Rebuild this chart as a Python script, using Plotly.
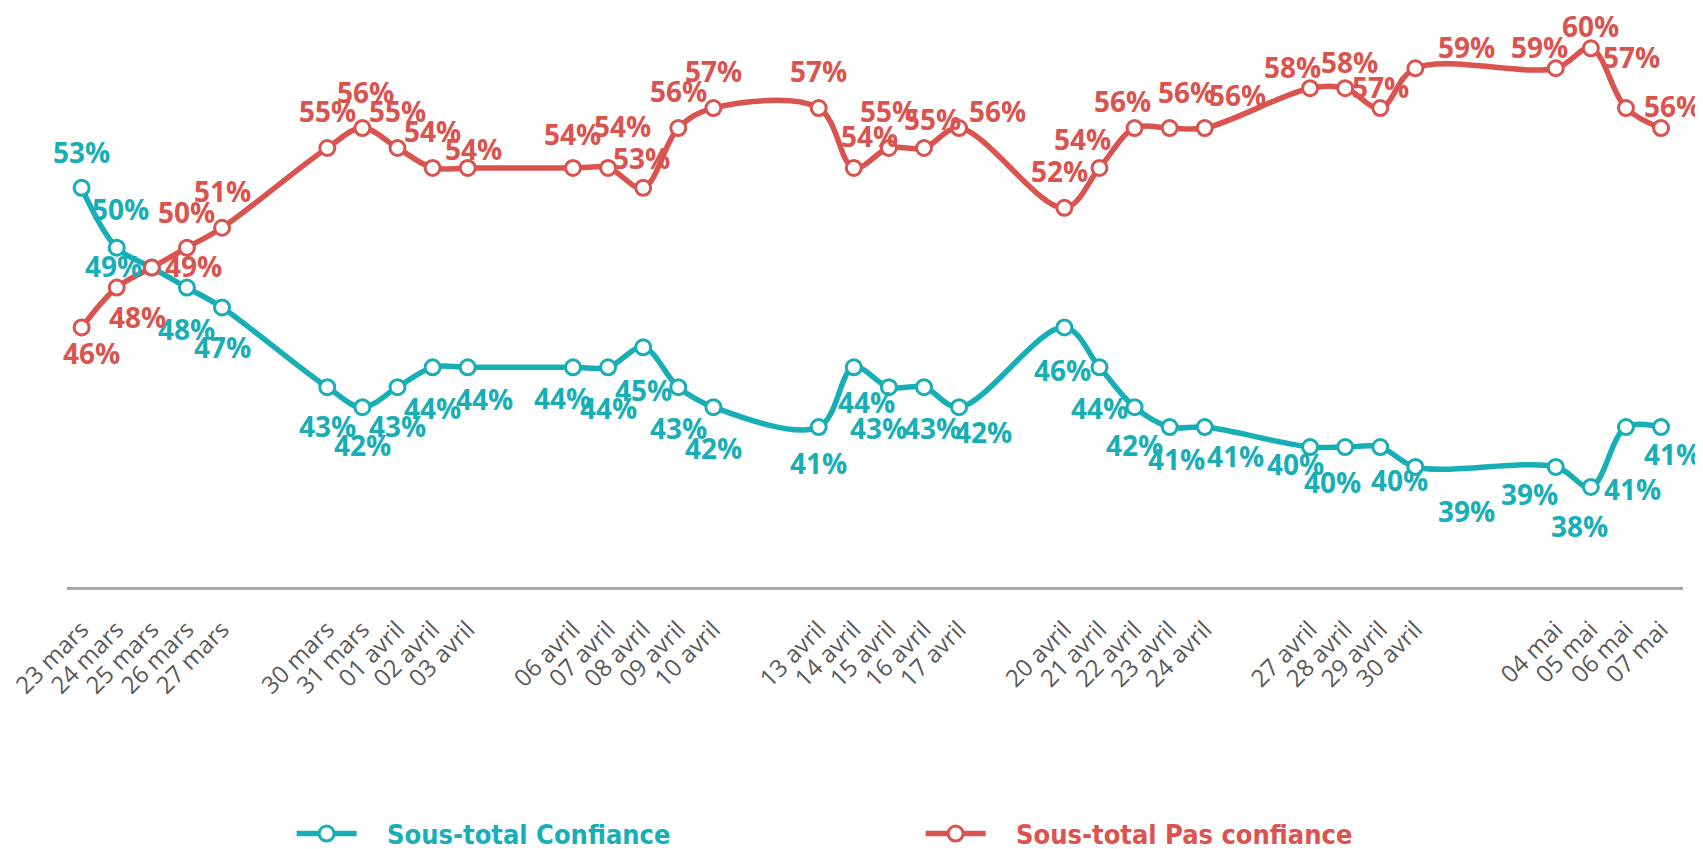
import pandas as pd
import plotly.graph_objects as go

# ---- data ----
dates = ["2020-03-23", "2020-03-24", "2020-03-25", "2020-03-26", "2020-03-27",
         "2020-03-30", "2020-03-31", "2020-04-01", "2020-04-02", "2020-04-03",
         "2020-04-06", "2020-04-07", "2020-04-08", "2020-04-09", "2020-04-10",
         "2020-04-13", "2020-04-14", "2020-04-15", "2020-04-16", "2020-04-17",
         "2020-04-20", "2020-04-21", "2020-04-22", "2020-04-23", "2020-04-24",
         "2020-04-27", "2020-04-28", "2020-04-29", "2020-04-30",
         "2020-05-04", "2020-05-05", "2020-05-06", "2020-05-07"]
tick_labels = ["23 mars", "24 mars", "25 mars", "26 mars", "27 mars",
               "30 mars", "31 mars", "01 avril", "02 avril", "03 avril",
               "06 avril", "07 avril", "08 avril", "09 avril", "10 avril",
               "13 avril", "14 avril", "15 avril", "16 avril", "17 avril",
               "20 avril", "21 avril", "22 avril", "23 avril", "24 avril",
               "27 avril", "28 avril", "29 avril", "30 avril",
               "04 mai", "05 mai", "06 mai", "07 mai"]
confiance = [53, 50, 49, 48, 47, 43, 42, 43, 44, 44, 44, 44, 45, 43, 42, 41, 44,
             43, 43, 42, 46, 44, 42, 41, 41, 40, 40, 40, 39, 39, 38, 41, 41]
pas_confiance = [46, 48, 49, 50, 51, 55, 56, 55, 54, 54, 54, 54, 53, 56, 57, 57, 54,
                 55, 55, 56, 52, 54, 56, 56, 56, 58, 58, 57, 59, 59, 60, 57, 56]
series_names = ["Sous-total Confiance", "Sous-total Pas confiance"]

# ---- label offsets (pixels: dx right, dy down) ----
conf_off = [(0, -36), (4, -39), (-38, -2), (0, 41), (0, 40),
            (0, 39), (0, 38), (0, 39), (0, 41), (17, 32),
            (-11, 31), (0, 41), (0, 43), (0, 41), (0, 41),
            (0, 36), (13, 35), (-10, 41), (9, 41), (24, 25),
            (-2, 43), (0, 41), (0, 38), (7, 32), (31, 29),
            (-15, 17), (-13, 35), (19, 33), (51, 44),
            (-26, 27), (-11, 39), (7, 62), (11, 27)]
pas_off = [(10, 26), (21, 29), (42, -2), (0, -36), (0, -37),
           (0, -37), (3, -36), (0, -37), (0, -37), (6, -19),
           (-1, -34), (14, -42), (-2, -30), (0, -37), (0, -37),
           (0, -37), (16, -32), (0, -37), (9, -29), (38, -17),
           (-5, -37), (-17, -29), (-12, -27), (17, -36), (33, -33),
           (-18, -21), (4, -26), (0, -21), (51, -21),
           (-16, -21), (0, -22), (6, -51), (11, -22)]

TEAL = "#17AEB5"
RED = "#D9534F"
GRAY_TXT = "#595959"
NB = "\u00a0"

x = pd.to_datetime(dates)

fig = go.Figure()
for name, vals, col in [(series_names[0], confiance, TEAL),
                        (series_names[1], pas_confiance, RED)]:
    fig.add_trace(go.Scatter(
        x=x, y=vals,
        name=f"{NB*3}<span style='color:{col}'>{name}</span>",
        mode="lines+markers",
        line=dict(color=col, width=5.5, shape="spline", smoothing=1.0),
        marker=dict(size=15, color="white", line=dict(color=col, width=3)),
        cliponaxis=False, hoverinfo="skip",
    ))

for vals, offs, col in [(confiance, conf_off, TEAL), (pas_confiance, pas_off, RED)]:
    for xi, v, (dx, dy) in zip(x, vals, offs):
        fig.add_annotation(
            x=xi, y=v, text=f"{v}%", showarrow=False,
            xshift=dx, yshift=-dy,
            font=dict(family="Open Sans", size=28, color=col, weight="bold"),
        )

x0 = x[0] - pd.Timedelta(hours=10)
x1 = x[-1] + pd.Timedelta(hours=15)

fig.update_layout(
    width=1703, height=849,
    margin=dict(l=59, r=28, t=10, b=270, autoexpand=False),
    paper_bgcolor="white", plot_bgcolor="white",
    showlegend=True,
    legend=dict(
        orientation="h", x=0.139, y=-0.391, xanchor="left", yanchor="top",
        font=dict(family="Liberation Sans Narrow, DejaVu Sans Condensed, Open Sans",
                  size=27, weight="bold"),
        entrywidth=554, entrywidthmode="pixels", itemwidth=60,
        itemsizing="trace", bgcolor="rgba(0,0,0,0)",
    ),
    xaxis=dict(
        type="date", range=[x0, x1], automargin=False,
        showgrid=False, zeroline=False,
        showline=True, linecolor="#A6A6A6", linewidth=3,
        tickvals=x, ticktext=tick_labels, tickangle=-45,
        ticks="", ticklabelstandoff=16, ticklabeloverflow="allow",
        tickfont=dict(family="Open Sans", size=24, color=GRAY_TXT),
    ),
    yaxis=dict(range=[32.98, 61.52], visible=False, fixedrange=True,
               automargin=False),
)

fig.write_html("out.html")
